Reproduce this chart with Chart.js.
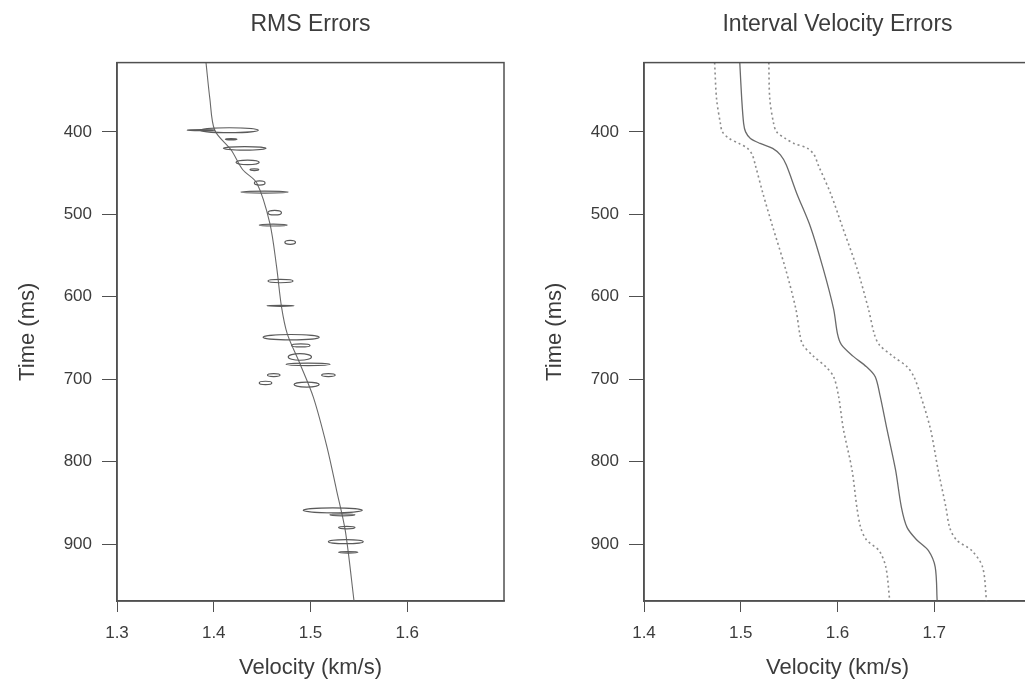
<!DOCTYPE html>
<html>
<head>
<meta charset="utf-8">
<script src="https://cdn.jsdelivr.net/npm/chart.js@4.4.1/dist/chart.umd.min.js"></script>
<style>
  html, body { margin: 0; padding: 0; background: #fff; overflow: hidden; width: 1025px; height: 690px; }
  .panel { position: absolute; top: 0; width: 530px; height: 690px; }
</style>
</head>
<body>
<div class="panel" style="left:0"><canvas id="rms"></canvas></div>
<div class="panel" style="left:527px"><canvas id="interval"></canvas></div>
<script>
// tick values
const timeTicks = [400, 500, 600, 700, 800, 900];
const rmsVelTicks = [1.3, 1.4, 1.5, 1.6];
const intVelTicks = [1.4, 1.5, 1.6, 1.7];

// RMS velocity curve (ms, km/s)
const rmsTime = [316, 360, 398, 422, 446, 462, 511, 564, 612, 645, 681, 722, 782, 835, 884, 969];
const rmsVel = [1.392, 1.396, 1.401, 1.418, 1.430, 1.4445, 1.458, 1.465, 1.470, 1.476, 1.489, 1.503, 1.517, 1.527, 1.536, 1.545];

// RMS error ellipses: centre time, centre velocity, half widths
const ellTime = [398, 398, 409, 420, 437, 446, 462, 473, 498, 513, 534, 581, 611, 649, 659, 673, 682, 695, 695, 704.5, 706.5, 859, 864.5, 880, 897, 910];
const ellVel = [1.416, 1.387, 1.418, 1.432, 1.435, 1.442, 1.4475, 1.4525, 1.463, 1.4615, 1.479, 1.469, 1.469, 1.480, 1.490, 1.489, 1.4975, 1.462, 1.5185, 1.4535, 1.496, 1.523, 1.533, 1.5375, 1.5365, 1.539];
const ellDv = [0.030, 0.0145, 0.006, 0.022, 0.012, 0.0045, 0.0055, 0.0245, 0.007, 0.0145, 0.0055, 0.013, 0.014, 0.029, 0.0095, 0.012, 0.0227, 0.0065, 0.007, 0.0065, 0.013, 0.0305, 0.013, 0.0085, 0.018, 0.010];
const ellDt = [3.0, 0.6, 0.8, 2.2, 2.8, 1.0, 2.5, 1.2, 2.8, 1.2, 2.4, 2.0, 0.6, 3.2, 1.8, 4.0, 1.5, 1.8, 1.8, 2.0, 3.0, 3.0, 1.2, 1.5, 2.5, 1.0];

// interval velocity with lower / upper error bounds
const intTime = [316, 360, 390, 400, 408, 414, 420, 428, 440, 475, 515, 565, 615, 645, 658, 672, 685, 697, 720, 760, 810, 855, 880, 895, 908, 928, 969];
const intVel = [1.499, 1.501, 1.503, 1.505, 1.510, 1.520, 1.533, 1.541, 1.547, 1.558, 1.572, 1.585, 1.596, 1.600, 1.604, 1.616, 1.630, 1.639, 1.644, 1.651, 1.660, 1.666, 1.672, 1.682, 1.694, 1.701, 1.703];
const intLow = [1.473, 1.475, 1.479, 1.481, 1.488, 1.498, 1.507, 1.512, 1.515, 1.523, 1.533, 1.546, 1.557, 1.561, 1.564, 1.575, 1.588, 1.596, 1.601, 1.606, 1.615, 1.620, 1.624, 1.630, 1.643, 1.650, 1.654];
const intHigh = [1.529, 1.530, 1.534, 1.537, 1.546, 1.555, 1.569, 1.576, 1.580, 1.593, 1.605, 1.620, 1.632, 1.638, 1.643, 1.657, 1.672, 1.679, 1.686, 1.696, 1.704, 1.712, 1.716, 1.723, 1.739, 1.750, 1.754];

const family = '"Liberation Sans", Arial, sans-serif';
const textColor = '#3c3c3c';
const axisColor = '#505050';

const pts = (vel, time) => time.map((t, i) => ({ x: vel[i], y: t }));

// frame round the plot area
const boxPlugin = {
  id: 'box',
  afterDraw(chart) {
    const { ctx, chartArea: a } = chart;
    ctx.save();
    ctx.strokeStyle = axisColor;
    ctx.lineWidth = 1.5;
    ctx.strokeRect(a.left, a.top, a.right - a.left, a.bottom - a.top);
    ctx.restore();
  }
};

// error ellipses drawn through the chart scales
const ellipsePlugin = {
  id: 'errorEllipses',
  afterDatasetsDraw(chart) {
    const { ctx, chartArea: a, scales: { x, y } } = chart;
    ctx.save();
    ctx.beginPath();
    ctx.rect(a.left, a.top, a.right - a.left, a.bottom - a.top);
    ctx.clip();
    ctx.strokeStyle = '#5a5a5a';
    ctx.lineWidth = 1.2;
    ellTime.forEach((t, i) => {
      const cx = x.getPixelForValue(ellVel[i]);
      const rx = Math.abs(x.getPixelForValue(ellVel[i] + ellDv[i]) - cx);
      const cy = y.getPixelForValue(t);
      const ry = Math.max(0.5, Math.abs(y.getPixelForValue(t + ellDt[i]) - cy));
      ctx.beginPath();
      ctx.ellipse(cx, cy, rx, ry, 0, 0, Math.PI * 2);
      ctx.stroke();
    });
    ctx.restore();
  }
};

function panelOptions(title, xMin, xMax, xTicks) {
  return {
    responsive: true,
    maintainAspectRatio: false,
    animation: false,
    layout: { padding: { left: 0, right: 26, top: 0, bottom: 0 } },
    plugins: {
      legend: { display: false },
      tooltip: { enabled: false },
      title: {
        display: true,
        text: title,
        fullSize: false,
        color: textColor,
        font: { family, size: 23, weight: 'normal' },
        padding: { top: 11, bottom: 24 }
      }
    },
    scales: {
      x: {
        type: 'linear',
        min: xMin,
        max: xMax,
        afterBuildTicks: s => { s.ticks = xTicks.map(v => ({ value: v })); },
        afterFit: s => { s.height = 89; },
        grid: { drawOnChartArea: false, drawTicks: true, tickLength: 11, color: axisColor },
        border: { color: axisColor, width: 1.5 },
        ticks: { color: textColor, font: { family, size: 17 }, padding: 11, maxRotation: 0, callback: v => Number(v).toFixed(1) },
        title: { display: true, text: 'Velocity (km/s)', color: textColor, font: { family, size: 22 }, padding: { top: 0, bottom: 9 } }
      },
      y: {
        type: 'linear',
        reverse: true,
        min: 316,
        max: 969,
        afterBuildTicks: s => { s.ticks = timeTicks.map(v => ({ value: v })); },
        afterFit: s => { s.width = 117; },
        grid: { drawOnChartArea: false, drawTicks: true, tickLength: 15, color: axisColor },
        border: { color: axisColor, width: 1.5 },
        ticks: { color: textColor, font: { family, size: 17 }, padding: 10 },
        title: { display: true, text: 'Time (ms)', color: textColor, font: { family, size: 22 }, padding: { top: 15, bottom: 0 } }
      }
    }
  };
}

new Chart(document.getElementById('rms'), {
  type: 'scatter',
  data: {
    datasets: [{
      data: pts(rmsVel, rmsTime),
      showLine: true,
      borderColor: '#6a6a6a',
      borderWidth: 1.1,
      pointRadius: 0,
      tension: 0.3
    }]
  },
  options: panelOptions('RMS Errors', 1.3, 1.7, rmsVelTicks),
  plugins: [ellipsePlugin, boxPlugin]
});

const dotted = { showLine: true, borderColor: '#8c8c8c', borderWidth: 1.6, borderDash: [2, 3], pointRadius: 0, tension: 0.3 };

new Chart(document.getElementById('interval'), {
  type: 'scatter',
  data: {
    datasets: [
      { data: pts(intVel, intTime), showLine: true, borderColor: '#6a6a6a', borderWidth: 1.3, pointRadius: 0, tension: 0.3 },
      { data: pts(intLow, intTime), ...dotted },
      { data: pts(intHigh, intTime), ...dotted }
    ]
  },
  options: panelOptions('Interval Velocity Errors', 1.4, 1.8, intVelTicks),
  plugins: [boxPlugin]
});
</script>
</body>
</html>
